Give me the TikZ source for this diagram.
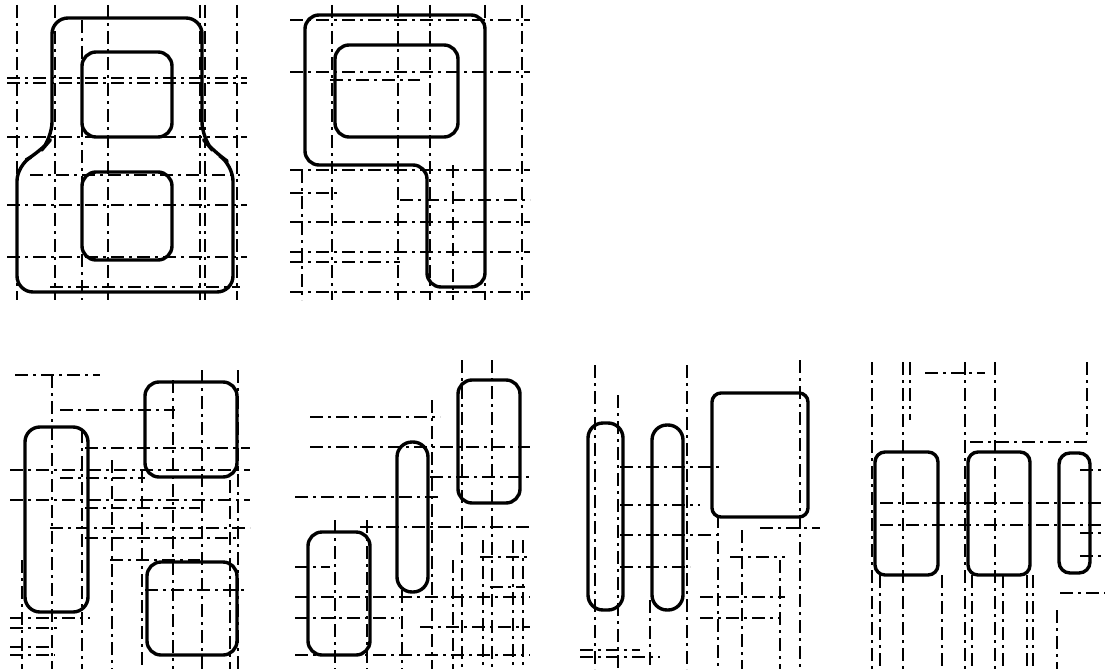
\documentclass[tikz,border=0pt]{standalone}
\begin{document}
\begin{tikzpicture}[x=1pt,y=-1pt,
  gridline/.style={line width=1.8pt,dash pattern=on 13pt off 5pt on 3pt off 5pt},
  shapeline/.style={line width=3.4pt,rounded corners=14pt,line join=round},
  pill/.style={line width=3.4pt,rounded corners=15pt}]
\useasboundingbox[fill=white] (0,0) rectangle (1107,669);
% ---------- grid lines ----------
% panel A
\foreach \x/\a/\b in {17/5/300,55/5/300,82/20/300,108/5/300,200/5/300,205/5/300,237/5/300}
  \draw[gridline] (\x,\a) -- (\x,\b);
\foreach \y/\a/\b in {78/7/247,83/7/247,137/7/247,175/30/240,205/7/247,257/7/247,287/50/240}
  \draw[gridline] (\a,\y) -- (\b,\y);
% panel B
\foreach \x/\a/\b in {302/170/300,332/5/300,398/5/300,430/5/300,453/165/300,485/5/300,522/5/300}
  \draw[gridline] (\x,\a) -- (\x,\b);
\foreach \y/\a/\b in {20/290/530,72/290/530,80/330/420,170/290/530,193/290/340,200/400/530,222/290/530,252/290/530,262/290/400,292/290/530}
  \draw[gridline] (\a,\y) -- (\b,\y);
% panel C
\foreach \x/\a/\b in {22/560/669,52/375/669,82/430/669,112/460/669,142/470/669,173/380/669,202/370/669,230/480/669,238/370/669}
  \draw[gridline] (\x,\a) -- (\x,\b);
\foreach \y/\a/\b in {375/15/100,410/60/175,448/85/250,470/10/250,478/60/145,500/10/250,508/85/200,528/50/250,538/85/240,560/110/200,590/145/245,618/10/90,628/10/60,647/10/50,655/10/55}
  \draw[gridline] (\a,\y) -- (\b,\y);
% panel D
\foreach \x/\a/\b in {335/520/669,367/520/669,402/590/669,432/400/669,453/560/669,462/360/669,483/540/669,492/360/669,513/540/669,523/540/669}
  \draw[gridline] (\x,\a) -- (\x,\b);
\foreach \y/\a/\b in {417/310/440,447/310/530,477/430/530,497/295/440,527/360/530,557/480/530,567/295/330,587/490/525,597/295/530,618/295/400,627/420/530,655/295/530}
  \draw[gridline] (\a,\y) -- (\b,\y);
% panel E
\foreach \x/\a/\b in {595/365/669,618/395/669,650/600/669,687/365/669,718/515/669,742/530/669,780/560/669,800/360/669}
  \draw[gridline] (\x,\a) -- (\x,\b);
\foreach \y/\a/\b in {467/620/720,505/620/700,528/760/820,535/620/720,557/730/785,567/620/690,597/700/785,618/700/780,650/580/640,657/580/660}
  \draw[gridline] (\a,\y) -- (\b,\y);
% panel F
\foreach \x/\a/\b in {872/362/669,880/575/669,903/362/669,910/362/420,942/575/669,965/362/669,972/575/669,995/362/669,1003/575/669,1027/575/669,1033/575/669,1057/610/669,1087/362/440}
  \draw[gridline] (\x,\a) -- (\x,\b);
\foreach \y/\a/\b in {373/925/985,442/970/1090,470/1080/1105,503/880/1105,525/880/1105,533/1080/1105,556/1080/1105,593/1060/1105}
  \draw[gridline] (\a,\y) -- (\b,\y);
% ---------- shapes ----------
% panel A
\draw[shapeline,rounded corners=16pt] (52,80) -- (52,18) -- (202,18) -- (202,138) -- (214,152) -- (233,165)
  -- (233,292) -- (17,292) -- (17,165) -- (40,152) -- (52,138) -- cycle;
\draw[shapeline] (82,52) rectangle (172,137);
\draw[shapeline] (82,172) rectangle (172,260);
% panel B
\draw[shapeline] (305,90) -- (305,15) -- (485,15) -- (485,287) -- (427,287) -- (427,165) -- (305,165) -- cycle;
\draw[shapeline] (335,45) rectangle (458,137);
% panel C
\draw[pill] (25,427) rectangle (88,612);
\draw[shapeline] (145,382) rectangle (237,477);
\draw[shapeline] (147,562) rectangle (237,655);
% panel D
\draw[shapeline] (308,532) rectangle (370,655);
\draw[pill] (397,442) rectangle (428,592);
\draw[shapeline] (458,380) rectangle (520,503);
% panel E
\draw[pill] (588,423) rectangle (623,610);
\draw[pill] (652,425) rectangle (683,610);
\draw[shapeline,rounded corners=9pt] (712,393) rectangle (808,517);
% panel F
\draw[shapeline,rounded corners=10pt] (875,452) rectangle (938,575);
\draw[shapeline,rounded corners=10pt] (968,452) rectangle (1030,575);
\draw[pill,rounded corners=11pt] (1059,453) rectangle (1090,573);
\end{tikzpicture}
\end{document}
